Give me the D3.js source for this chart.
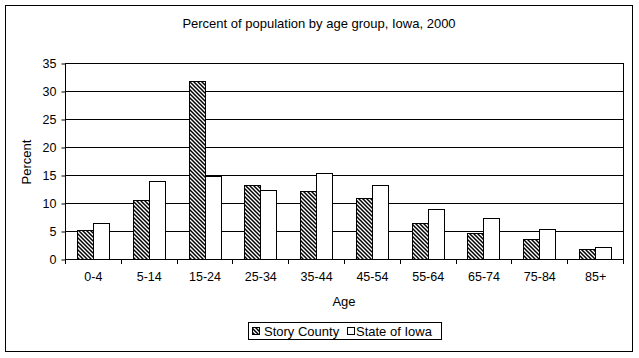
<!DOCTYPE html>
<html><head><meta charset="utf-8">
<script src="https://cdn.jsdelivr.net/npm/d3@7"></script>
<style>body{margin:0;background:#fff;} text{font-family:Arial,"Liberation Sans",sans-serif;font-size:12px;fill:#000;}</style>
</head><body>
<svg id="c" width="639" height="358"></svg>
<script>
const categories = ["0-4","5-14","15-24","25-34","35-44","45-54","55-64","65-74","75-84","85+"];
const storyCounty = [5.2,10.6,31.7,13.3,12.2,10.9,6.5,4.7,3.6,1.7];
const stateOfIowa = [6.5,14.0,14.8,12.4,15.3,13.3,9.0,7.4,5.4,2.2];
const yTicks = [0,5,10,15,20,25,30,35];
const seriesNames = ["Story County","State of Iowa"];

const svg = d3.select("#c");
const defs = svg.append("defs");
const pat = defs.append("pattern").attr("id","hatch").attr("patternUnits","userSpaceOnUse")
  .attr("width",4).attr("height",4);
pat.append("rect").attr("width",4).attr("height",4).attr("fill","#fff");
pat.append("path").attr("d","M-1,-1 L5,5 M-1,3 L1,5 M3,-1 L5,1").attr("stroke","#000").attr("stroke-width",1.5);

// outer border
svg.append("rect").attr("x",5.5).attr("y",5.5).attr("width",627).attr("height",346)
  .attr("fill","#fff").attr("stroke","#000").attr("stroke-width",1);

const pL=65, pR=623, pT=63, pB=259;
const x = d3.scaleBand().domain(categories).range([pL,pR]);
const y = d3.scaleLinear().domain([0,35]).range([pB,pT]);

// plot area border + gridlines
svg.append("rect").attr("x",pL+0.5).attr("y",pT+0.5).attr("width",pR-pL).attr("height",pB-pT)
  .attr("fill","none").attr("stroke","#000");
svg.append("g").selectAll("line").data(yTicks.filter(d=>d>0)).join("line")
  .attr("x1",pL).attr("x2",pR+0.5).attr("y1",d=>Math.round(y(d))+0.5).attr("y2",d=>Math.round(y(d))+0.5)
  .attr("stroke","#000");

// bars
const bw = 16;
const g = svg.append("g");
g.selectAll("rect.s").data(storyCounty).join("rect")
  .attr("x",(d,i)=>Math.round(x(categories[i])+x.bandwidth()/2-bw)+0.5)
  .attr("y",d=>Math.round(y(d))+0.5).attr("width",bw).attr("height",d=>Math.round(pB-y(d)))
  .attr("fill","url(#hatch)").attr("stroke","#000");
g.selectAll("rect.t").data(stateOfIowa).join("rect")
  .attr("x",(d,i)=>Math.round(x(categories[i])+x.bandwidth()/2)+0.5)
  .attr("y",d=>Math.round(y(d))+0.5).attr("width",bw).attr("height",d=>Math.round(pB-y(d)))
  .attr("fill","#fff").attr("stroke","#000");

// y axis
const ya = svg.append("g").attr("transform",`translate(${pL+0.5},0.5)`)
  .call(d3.axisLeft(y).tickValues(yTicks).tickSize(4).tickPadding(5).tickFormat(d3.format("d")));
ya.select(".domain").attr("d",`M0,${pT}V${pB}`);
ya.selectAll("text").style("font-size","12.5px");

// x axis
const xa = svg.append("g").attr("transform",`translate(0.5,${pB+0.5})`)
  .call(d3.axisBottom(x).tickSize(0).tickPadding(13));
xa.select(".domain").attr("d",`M${pL},0H${pR}`);
xa.selectAll("text").style("font-size","12.5px");
svg.append("g").selectAll("line").data(categories.concat(["end"])).join("line")
  .attr("x1",(d,i)=>Math.round(pL+i*x.step())+0.5).attr("x2",(d,i)=>Math.round(pL+i*x.step())+0.5)
  .attr("y1",pB).attr("y2",pB+5).attr("stroke","#000");

// titles
svg.append("text").attr("x",319).attr("y",28).attr("text-anchor","middle").style("font-size","13px").text("Percent of population by age group, Iowa, 2000");
svg.append("text").attr("x",(pL+pR)/2).attr("y",306).attr("text-anchor","middle").style("font-size","13px").text("Age");
svg.append("text").attr("transform","translate(31,162) rotate(-90)").attr("text-anchor","middle").style("font-size","13px").text("Percent");

// legend
const lg = svg.append("g");
lg.append("rect").attr("x",248.5).attr("y",322.5).attr("width",193).attr("height",17).attr("fill","#fff").attr("stroke","#000");
const items = [{name:seriesNames[0],fill:"url(#hatch)",sx:252,tx:264},{name:seriesNames[1],fill:"#fff",sx:347,tx:356}];
items.forEach(it=>{
  lg.append("rect").attr("x",it.sx+0.5).attr("y",327.5).attr("width",7).attr("height",7).attr("fill",it.fill).attr("stroke","#000");
  lg.append("text").attr("x",it.tx).attr("y",335.5).style("font-size","13px").text(it.name);
});
</script>
</body></html>
